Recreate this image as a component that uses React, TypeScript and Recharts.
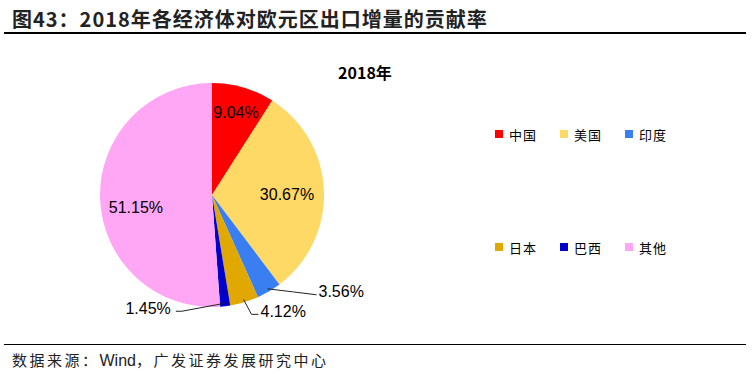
import React from 'react';
import { PieChart, Pie, Cell, Legend } from 'recharts';

// 2018年各经济体对欧元区出口增量的贡献率
const economies = ['中国', '美国', '印度', '日本', '巴西', '其他'];
const shares = [9.04, 30.67, 3.56, 4.12, 1.45, 51.15];
const colors = ['#FF0000', '#FFD966', '#3A7FF2', '#E0A800', '#0000CC', '#FFA6F4'];

const data = economies.map((name, i) => ({ name, value: shares[i] }));

const RAD = Math.PI / 180;
const labelFont = '"Liberation Sans", Arial, sans-serif';
const cjkFont = '"Noto Sans CJK SC", "Noto Sans", sans-serif';

// label placement: inside slices for the large ones, leader lines for the small ones
const inside: Record<number, { r: number; dy: number }> = {
  0: { r: 0.765, dy: 0 },
  1: { r: 0.67, dy: 2 },
  5: { r: 0.68, dy: 10 },
};
const leaders: Record<number, { elbow: [number, number]; end: [number, number]; anchor: 'start' | 'end' }> = {
  2: { elbow: [25, 3], end: [49, 6], anchor: 'start' },
  3: { elbow: [8, 15], end: [15, 15], anchor: 'start' },
  4: { elbow: [-43, 8], end: [-49, 8], anchor: 'end' },
};

const renderLabel = (props: any) => {
  const { cx, cy, midAngle, outerRadius, index, value } = props;
  const cos = Math.cos(-midAngle * RAD);
  const sin = Math.sin(-midAngle * RAD);
  const text = `${value.toFixed(2)}%`;
  if (inside[index] !== undefined) {
    const r = outerRadius * inside[index].r;
    return (
      <text
        x={cx + r * cos}
        y={cy + r * sin + inside[index].dy}
        textAnchor="middle"
        dominantBaseline="central"
        fontSize={16}
        fontFamily={labelFont}
        fill="#000"
      >
        {text}
      </text>
    );
  }
  const l = leaders[index];
  const sx = cx + (outerRadius - 3) * cos;
  const sy = cy + (outerRadius - 3) * sin;
  const mx = sx + l.elbow[0];
  const my = sy + l.elbow[1];
  const ex = sx + l.end[0];
  const ey = sy + l.end[1];
  return (
    <g>
      <path d={`M${sx},${sy}L${mx},${my}L${ex},${ey}`} stroke="#222" strokeWidth={1} fill="none" />
      <text
        x={ex + (l.anchor === 'start' ? 2 : -5)}
        y={ey - 3}
        textAnchor={l.anchor}
        dominantBaseline="central"
        fontSize={16}
        fontFamily={labelFont}
        fill="#000"
      >
        {text}
      </text>
    </g>
  );
};

const renderLegend = () => (
  <div style={{ display: 'grid', gridTemplateColumns: '65px 65px 65px', rowGap: 99, fontFamily: cjkFont, fontSize: 13 }}>
    {economies.map((name, i) => (
      <div key={name} style={{ display: 'flex', alignItems: 'center', height: 14 }}>
        <span style={{ width: 8, height: 8, background: colors[i], marginRight: 6, display: 'inline-block' }} />
        <span style={{ color: '#000', letterSpacing: 1 }}>{name}</span>
      </div>
    ))}
  </div>
);

export default function App() {
  return (
    <div style={{ position: 'absolute', left: 0, top: 0, width: 752, height: 376, background: '#fff', overflow: 'hidden' }}>
      <div
        style={{
          position: 'absolute',
          left: 12,
          top: 4,
          fontFamily: cjkFont,
          fontWeight: 'bold',
          fontSize: 20,
          color: '#222',
          whiteSpace: 'nowrap',
          letterSpacing: 1,
        }}
      >
        图43：2018年各经济体对欧元区出口增量的贡献率
      </div>
      <div style={{ position: 'absolute', left: 4, top: 32, width: 742, height: 2, background: '#000' }} />
      <div
        style={{
          position: 'absolute',
          left: 305,
          top: 60,
          width: 120,
          textAlign: 'center',
          fontFamily: cjkFont,
          fontWeight: 'bold',
          fontSize: 16,
          color: '#000',
        }}
      >
        2018年
      </div>
      <PieChart
        width={752}
        height={376}
        margin={{ top: 0, right: 0, bottom: 0, left: 0 }}
        style={{ position: 'absolute', left: 0, top: 0 }}
      >
        <Pie
          data={data}
          dataKey="value"
          nameKey="name"
          cx={212}
          cy={195}
          outerRadius={112}
          startAngle={90}
          endAngle={-270}
          stroke="none"
          label={renderLabel}
          labelLine={false}
          isAnimationActive={false}
        >
          {data.map((d, i) => (
            <Cell key={d.name} fill={colors[i]} />
          ))}
        </Pie>
        <Legend
          content={renderLegend}
          wrapperStyle={{ position: 'absolute', left: 495, top: 127, width: 210 }}
        />
      </PieChart>
      <div style={{ position: 'absolute', left: 4, top: 344, width: 742, height: 1, background: '#000' }} />
      <div
        style={{
          position: 'absolute',
          left: 12,
          top: 349,
          fontFamily: cjkFont,
          fontSize: 15,
          color: '#222',
          whiteSpace: 'nowrap',
          letterSpacing: 2.5,
        }}
      >
        数据来源：
        <span style={{ fontFamily: labelFont, fontSize: 16, letterSpacing: 0 }}>Wind</span>
        ，广发证券发展研究中心
      </div>
    </div>
  );
}
